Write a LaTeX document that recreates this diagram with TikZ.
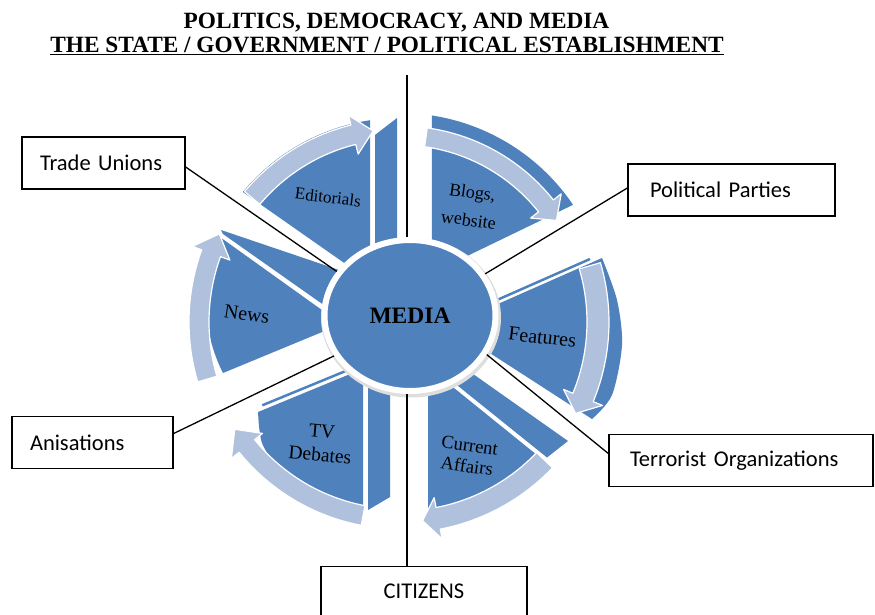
\documentclass[tikz,border=0pt]{standalone}
\usepackage{fontspec}
\setmainfont{Liberation Serif}
\newfontfamily\calibri{Carlito}
\usetikzlibrary{shapes.geometric}
\definecolor{segblue}{HTML}{4F81BD}
\definecolor{arrowblue}{HTML}{B0C1DD}
\newcommand\cycarrow[5]{%
  \path[arr] (#1:#4) arc[start angle=#1,end angle=#2,radius=#4]
    -- (#2:{#4-10}) -- (#3:{(#4+#5)/2}) -- (#2:{#5+10}) -- (#2:#5)
    arc[start angle=#2,end angle=#1,radius=#5] -- cycle;}
\begin{document}
\begin{tikzpicture}[x=1pt,y=-1pt,
  seg/.style={fill=segblue},
  arr/.style={fill=arrowblue,draw=white,line width=1.2pt,line join=round},
  lbl/.style={text=black,align=center,inner sep=0pt},
  box/.style={draw=black,line width=1.3pt,fill=white,minimum height=52pt,inner ysep=0pt,inner xsep=18pt,align=left,font=\calibri\fontsize{22.5}{27}\selectfont},
  conn/.style={draw=black,line width=1.3pt}]
\useasboundingbox (0,0) rectangle (875,614);

\begin{scope}[shift={(400,322)}]
 % wedge faces and sides
 \fill[seg] (-30,-41) -- (-98.4:204) arc[start angle=-98.4,end angle=-140.4,radius=204] -- cycle;
 \fill[seg] (-25,-187) -- (-3,-204) -- (-3,-60) -- (-25,-60) -- cycle;
 \fill[seg] (32,-49) -- (-81.2:209) arc[start angle=-81.2,end angle=-34.1,radius=209] -- cycle;
 \fill[seg] (48,4) -- (202,-64) -- plot[smooth] coordinates {(202,-64) (217,-22) (222,23) (212,73) (192,97)} -- cycle;
 \draw[segblue,line width=2.5pt] (97,-22) -- (190,-63);
 \fill[seg] (28,45) -- (44:197) arc[start angle=44,end angle=81.8,radius=197] -- cycle;
 \fill[seg] (32,23) -- (168,119) -- (147,135.5) -- (32,43) -- cycle;
 \fill[seg] (-37,46.7) -- (-37,187) -- plot[smooth] coordinates {(-37,187) (-87,172) (-120,148) (-138,121) (-142,90)} -- cycle;
 \fill[seg] (-32,50) -- (-32,188) -- (-10,175) -- (-10,50) -- cycle;
 \draw[segblue,line width=2.5pt] (-137.7,83.3) -- (-51.7,47.9);
 \fill[seg] (-58.5,2) -- (-177,51) arc[start angle=153.1,end angle=204.4,radius=157] -- cycle;
 \fill[seg] (-179,-92) -- (-55,-50) -- (-55,-2) -- (-177,-88) -- cycle;
 % curved arrows
 \cycarrow{-140}{-104}{-98}{183}{203}
 \cycarrow{-82}{-38.5}{-33}{177}{196}
 \cycarrow{-16.5}{22.4}{27.5}{187}{209}
 \cycarrow{43.7}{79}{83.5}{189}{211}
 \cycarrow{100.8}{141}{147}{187}{207}
 \cycarrow{163.5}{200}{206}{191}{211}
\end{scope}

% segment labels
\node[lbl,rotate=-7,font=\fontsize{17}{20}\selectfont] (led) at (328,197) {Editorials};
\node[lbl,rotate=-8,font=\fontsize{18}{28}\selectfont] (lbg) at (470.5,206) {Blogs,\\website};
\node[lbl,rotate=-8,font=\fontsize{20}{24}\selectfont] (lnw) at (246.7,314) {News};
\node[lbl,rotate=-6.5,font=\fontsize{20}{24}\selectfont] (lft) at (542.3,337.3) {Features};
\node[lbl,rotate=-5,font=\fontsize{19.5}{23.5}\selectfont] (ltv) at (321,443.5) {TV\\Debates};
\node[lbl,rotate=-8,font=\fontsize{18.6}{21}\selectfont] (lca) at (468.3,455.7) {Current\\Affairs};

% centre with soft shadow
\fill[black!13] (411,317.5) ellipse[x radius=90, y radius=80];
\node[ellipse,fill=segblue,draw=white,line width=6pt,minimum width=171pt,minimum height=151pt,inner sep=0pt,font=\fontsize{23.5}{26}\selectfont\bfseries] (media) at (410,315.5) {MEDIA};

% title
\node[anchor=base,inner sep=0pt,font=\fontsize{23.3}{26}\selectfont\bfseries] (t1) at (396.5,28) {POLITICS, DEMOCRACY, AND MEDIA};
\node[anchor=base,inner sep=0pt,font=\fontsize{23.3}{26}\selectfont\bfseries] (t2) at (387,52.5) {\underline{THE STATE / GOVERNMENT / POLITICAL ESTABLISHMENT}};

% boxes
\node[box,text width=127pt] (tu) at (103.5,163) {Trade Unions};
\node[box,inner xsep=22pt,text width=163pt] (pp) at (731.5,190) {Political Parties};
\node[box,text width=125pt] (an) at (92.5,442.5) {Anisations};
\node[box,inner xsep=21pt,text width=222pt] (terr) at (741,460.5) {Terrorist Organizations};
\node[box,minimum height=50pt,text width=170pt,align=center,anchor=north] (cit) at (424,566) {CITIZENS};

% connectors
\coordinate (vtop) at (407,75);
\draw[conn] (vtop) -- (vtop |- media.north);
\draw[conn] (media.south -| vtop) -- (cit.north -| vtop);
\draw[conn] ([yshift=-4pt]tu.east) -- (media.149);
\draw[conn] ([yshift=2pt]pp.west) -- (media.29.5);
\draw[conn] ([yshift=9pt]an.east) -- (media.208);
\draw[conn] ([yshift=7pt]terr.west) -- (media.333);
\end{tikzpicture}
\end{document}
